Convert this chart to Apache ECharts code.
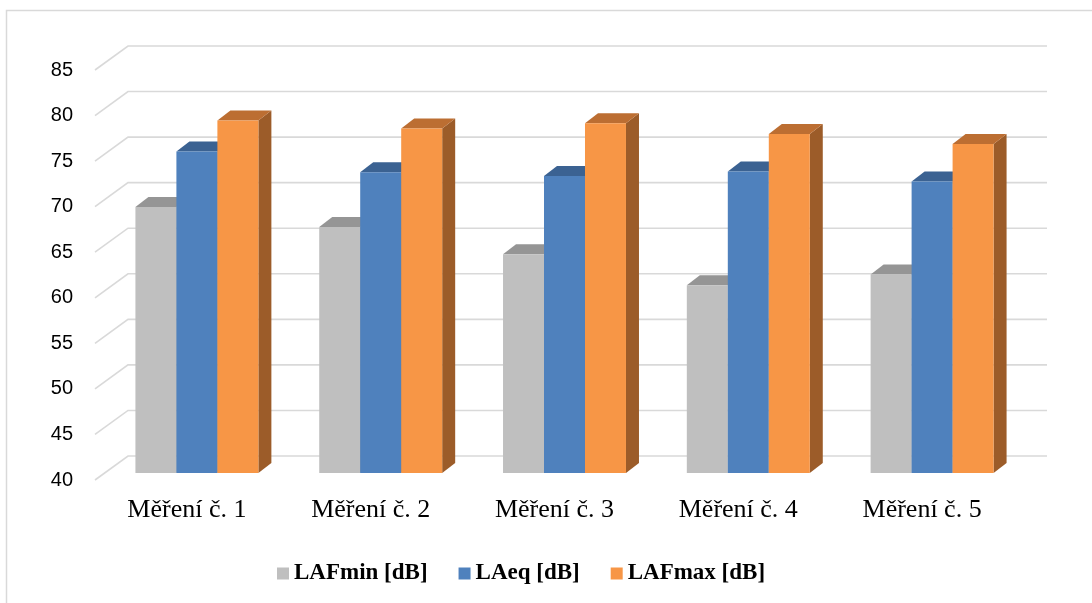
<!DOCTYPE html>
<html>
<head>
<meta charset="utf-8">
<script src="https://cdn.jsdelivr.net/npm/echarts/dist/echarts.min.js"></script>
<style>
  html, body { margin: 0; padding: 0; background: #fff; }
  #chart { width: 1092px; height: 603px; }
</style>
</head>
<body>
<div id="chart"></div>
<script>
var categories = ['Měření č. 1', 'Měření č. 2', 'Měření č. 3', 'Měření č. 4', 'Měření č. 5'];
var lafMin = [69.2, 67.0, 64.0, 60.6, 61.8];
var laEq = [75.3, 73.0, 72.6, 73.1, 72.0];
var lafMax = [78.7, 77.8, 78.4, 77.2, 76.1];
var yTicks = [40, 45, 50, 55, 60, 65, 70, 75, 80, 85];

// pseudo 3D: front plane = grid, bars sit a bit deeper, wall at the back
var wallOff = [33, -24];
var barOff = [10, -7];
var barDepth = [13, -10];
var barShare = 0.223;

var seriesDefs = [
  { name: 'LAFmin [dB]', data: lafMin, front: '#BFBFBF', top: '#959595', side: '#8C8C8C' },
  { name: 'LAeq [dB]', data: laEq, front: '#4F81BD', top: '#3B6292', side: '#355A86' },
  { name: 'LAFmax [dB]', data: lafMax, front: '#F79646', top: '#BC6E32', side: '#9C5C29' }
];

function makeBarRender(idx, def) {
  return function (params, api) {
    var cat = api.value(0);
    var val = api.value(1);
    var bandW = api.size([1, 0])[0];
    var bw = bandW * barShare;
    var pTop = api.coord([cat, val]);
    var pBase = api.coord([cat, yTicks[0]]);
    var x0 = pTop[0] - 1.5 * bw + idx * bw + barOff[0];
    var x1 = x0 + bw;
    var yt = pTop[1] + barOff[1];
    var yb = pBase[1] + barOff[1];
    var dx = barDepth[0], dy = barDepth[1];
    return {
      type: 'group',
      children: [
        {
          type: 'polygon',
          shape: { points: [[x1, yt], [x1 + dx, yt + dy], [x1 + dx, yb + dy], [x1, yb]] },
          style: { fill: def.side }
        },
        {
          type: 'polygon',
          shape: { points: [[x0, yt], [x1, yt], [x1 + dx, yt + dy], [x0 + dx, yt + dy]] },
          style: { fill: def.top }
        },
        {
          type: 'rect',
          shape: { x: x0, y: yt, width: bw, height: yb - yt },
          style: { fill: def.front }
        }
      ]
    };
  };
}

var chart = echarts.init(document.getElementById('chart'));

var series = [
  {
    name: 'wall',
    type: 'custom',
    silent: true,
    z: 1,
    data: yTicks.map(function (v) { return [0, v]; }),
    encode: { x: 0, y: 1 },
    renderItem: function (params, api) {
      var cs = params.coordSys;
      var y = api.coord([0, api.value(1)])[1];
      var xl = cs.x;
      var xr = cs.x + cs.width;
      return {
        type: 'polyline',
        shape: { points: [[xl, y], [xl + wallOff[0], y + wallOff[1]], [xr + wallOff[0], y + wallOff[1]]] },
        style: { stroke: '#D9D9D9', lineWidth: 1.6, fill: null }
      };
    }
  }
];

seriesDefs.forEach(function (def, i) {
  series.push({
    name: def.name,
    type: 'custom',
    z: 2 + i,
    itemStyle: { color: def.front },
    data: def.data.map(function (v, k) { return [k, v]; }),
    encode: { x: 0, y: 1 },
    renderItem: makeBarRender(i, def)
  });
});

var option = {
  animation: false,
  backgroundColor: '#fff',
  graphic: [
    {
      type: 'rect',
      shape: { x: 6.5, y: 10.5, width: 1200, height: 700 },
      style: { fill: null, stroke: '#D9D9D9', lineWidth: 1.5 },
      silent: true
    }
  ],
  grid: {
    left: 95,
    top: 70,
    width: 919,
    height: 410
  },
  legend: {
    left: 272,
    top: 557,
    itemWidth: 12,
    itemHeight: 12,
    itemGap: 31,
    icon: 'rect',
    data: seriesDefs.map(function (d) { return d.name; }),
    textStyle: {
      fontFamily: '"Liberation Serif", "Times New Roman", serif',
      fontWeight: 'bold',
      fontSize: 23,
      color: '#000'
    }
  },
  xAxis: {
    type: 'category',
    data: categories,
    boundaryGap: true,
    axisLine: { show: false },
    axisTick: { show: false },
    splitLine: { show: false },
    axisLabel: {
      margin: 17,
      color: '#000',
      fontFamily: '"Liberation Serif", "Times New Roman", serif',
      fontSize: 26
    }
  },
  yAxis: {
    type: 'value',
    min: 40,
    max: 85,
    interval: 5,
    axisLine: { show: false },
    axisTick: { show: false },
    splitLine: { show: false },
    axisLabel: {
      margin: 22,
      color: '#000',
      fontFamily: '"Liberation Sans", Arial, sans-serif',
      fontSize: 20
    }
  },
  series: series
};

chart.setOption(option);
</script>
</body>
</html>
